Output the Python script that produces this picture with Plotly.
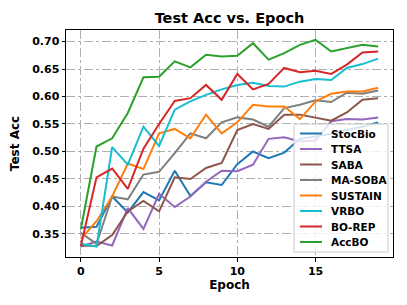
import plotly.graph_objects as go

epochs = list(range(20))

stocbio = [0.361, 0.363, 0.418, 0.389, 0.426, 0.411, 0.465, 0.419, 0.444, 0.439,
           0.477, 0.500, 0.488, 0.498, 0.523, 0.527, 0.532, 0.539, 0.545, 0.553]
ttsa = [0.327, 0.336, 0.329, 0.397, 0.359, 0.423, 0.399, 0.418, 0.445, 0.465,
        0.464, 0.476, 0.523, 0.526, 0.518, 0.520, 0.555, 0.559, 0.558, 0.562]
saba = [0.329, 0.328, 0.348, 0.391, 0.410, 0.391, 0.453, 0.450, 0.470, 0.479,
        0.539, 0.550, 0.541, 0.567, 0.567, 0.562, 0.556, 0.571, 0.594, 0.597]
masoba = [0.352, 0.332, 0.418, 0.413, 0.458, 0.463, 0.497, 0.533, 0.524, 0.553,
          0.562, 0.558, 0.545, 0.579, 0.585, 0.593, 0.590, 0.607, 0.605, 0.611]
sustain = [0.341, 0.373, 0.418, 0.478, 0.468, 0.533, 0.541, 0.524, 0.567, 0.533,
           0.553, 0.585, 0.582, 0.582, 0.559, 0.591, 0.605, 0.609, 0.609, 0.616]
vrbo = [0.332, 0.327, 0.508, 0.476, 0.545, 0.510, 0.576, 0.591, 0.603, 0.613,
        0.621, 0.625, 0.619, 0.618, 0.627, 0.632, 0.630, 0.652, 0.659, 0.669]
borep = [0.328, 0.453, 0.469, 0.432, 0.505, 0.550, 0.592, 0.597, 0.621, 0.594,
         0.641, 0.613, 0.623, 0.652, 0.644, 0.647, 0.641, 0.658, 0.680, 0.682]
accbo = [0.359, 0.509, 0.524, 0.570, 0.635, 0.636, 0.664, 0.653, 0.676, 0.673,
         0.674, 0.697, 0.667, 0.679, 0.694, 0.703, 0.682, 0.688, 0.694, 0.691]

names = ["StocBio", "TTSA", "SABA", "MA-SOBA", "SUSTAIN", "VRBO", "BO-REP", "AccBO"]
colors = ["#1f77b4", "#9467bd", "#8c564b", "#7f7f7f", "#ff7f0e", "#17becf", "#d62728", "#2ca02c"]
values = [stocbio, ttsa, saba, masoba, sustain, vrbo, borep, accbo]

x_ticks = [0, 5, 10, 15]
y_ticks = [0.35, 0.40, 0.45, 0.50, 0.55, 0.60, 0.65, 0.70]

# page offset from default body margin (8px)
OFF = 8
W, H = 407 - OFF, 305 - OFF
ML, MR, MT, MB = 66 - OFF, 14, 30 - OFF, 48
PW, PH = W - ML - MR, H - MT - MB

fig = go.Figure()
for name, vals, color in zip(names, values, colors):
    fig.add_trace(go.Scatter(x=epochs, y=vals, mode="lines", name=name,
                             line=dict(color=color, width=2), showlegend=False))

tick_font = dict(family="DejaVu Sans", size=11, color="black", weight="bold")
label_font = dict(family="DejaVu Sans", size=12, color="black", weight="bold")
legend_font = dict(family="DejaVu Sans", size=10.5, color="black", weight="bold")

axis_common = dict(
    showline=True, linecolor="black", linewidth=1, mirror=True,
    ticks="outside", ticklen=3.5, tickcolor="black", tickwidth=1,
    showgrid=True, gridcolor="#b0b0b0", griddash="dashdot", gridwidth=0.8,
    zeroline=False, tickfont=tick_font, automargin=False,
)

# legend panel: page-pixel layout converted to paper coordinates
def px_x(p):
    return (p - OFF - ML) / PW

def px_y(p):
    return (H - MB - (p - OFF)) / PH

shapes = [dict(type="rect", xref="paper", yref="paper",
               x0=px_x(294), x1=px_x(388), y0=px_y(252), y1=px_y(124),
               fillcolor="rgba(255,255,255,0.8)", line=dict(color="#cccccc", width=1),
               layer="above")]
annotations = []
for i, (name, color) in enumerate(zip(names, colors)):
    yc = px_y(133.5 + 15.5 * i)
    shapes.append(dict(type="line", xref="paper", yref="paper",
                       x0=px_x(300), x1=px_x(322), y0=yc, y1=yc,
                       line=dict(color=color, width=2), layer="above"))
    annotations.append(dict(text=name, xref="paper", yref="paper", x=px_x(329), y=yc,
                            xanchor="left", yanchor="middle", showarrow=False,
                            font=legend_font))

fig.update_layout(
    width=W, height=H,
    margin=dict(l=ML, r=MR, t=MT, b=MB),
    paper_bgcolor="white", plot_bgcolor="white",
    title=dict(text="Test Acc vs. Epoch", x=(ML + W - MR) / 2 / W, xanchor="center",
               y=1 - (18 - OFF) / H, yanchor="middle",
               font=dict(family="DejaVu Sans", size=14.5, color="black", weight="bold")),
    xaxis=dict(range=[-0.95, 19.95], tickvals=x_ticks,
               title=dict(text="Epoch", font=label_font, standoff=3), **axis_common),
    yaxis=dict(range=[0.308, 0.721], tickvals=y_ticks, tickformat=".2f",
               title=dict(text="Test Acc", font=label_font, standoff=12), **axis_common),
    shapes=shapes,
    annotations=annotations,
    showlegend=False,
)

fig.write_html("out.html")
